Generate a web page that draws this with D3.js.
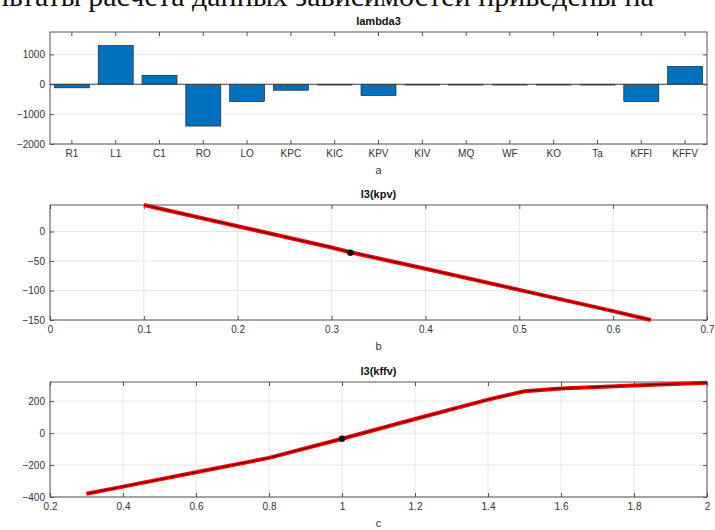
<!DOCTYPE html>
<html><head><meta charset="utf-8">
<script src="https://cdn.jsdelivr.net/npm/d3@7"></script>
<style>
body{margin:0;background:#fff;}
svg{display:block;font-family:"Liberation Sans",Arial,sans-serif;}
.tick text{fill:#333;font-size:10px;}
</style></head><body>
<svg id="c" width="715" height="530"></svg>
<script>
// ---- data ----
const headerText = "льтаты расчета данных зависимостей приведены на";
const categories = ["R1","L1","C1","RO","LO","KPC","KIC","KPV","KIV","MQ","WF","KO","Ta","KFFI","KFFV"];
const lambda3 = [-120,1300,300,-1400,-580,-200,0,-380,0,-20,0,0,0,-580,600];
const barTicks = [-2000,-1000,0,1000];

const kpvX = [0.1,0.2,0.3,0.32,0.4,0.5,0.6,0.64];
const kpvY = [45,9,-27,-35,-63,-99,-135,-150];
const kpvPoint = [0.32,-36];
const kpvXTicks = [0,0.1,0.2,0.3,0.4,0.5,0.6,0.7];
const kpvYTicks = [-150,-100,-50,0];

const kffX = [0.3,0.4,0.6,0.8,1.0,1.2,1.4,1.5,1.6,1.8,2.0];
const kffY = [-380,-335,-245,-155,-35,88,210,262,280,298,315];
const kffPoint = [1.0,-35];
const kffXTicks = [0.2,0.4,0.6,0.8,1,1.2,1.4,1.6,1.8,2];
const kffYTicks = [-400,-200,0,200];

const titles = ["lambda3","l3(kpv)","l3(kffv)"];
const xlabels = ["a","b","c"];

// ---- drawing ----
const svg = d3.select("#c");
svg.append("text").attr("x",-6).attr("y",6)
  .style("font-family","'Liberation Serif','Times New Roman',serif")
  .style("font-size","30px").attr("fill","#111").text(headerText);

const L = 50, R = 707;
const axisColor = "#555";

function frame(g, x, y, top, bottom, xTicks, yTicks, xFmt, yFmt, title, xlabel, bandX){
  if(!bandX){
    g.selectAll(".gx").data(xTicks).join("line")
      .attr("x1",d=>x(d)).attr("x2",d=>x(d)).attr("y1",top).attr("y2",bottom)
      .attr("stroke","#e6e6e6");
  }
  g.selectAll(".gy").data(yTicks).join("line")
    .attr("x1",L).attr("x2",R).attr("y1",d=>y(d)).attr("y2",d=>y(d))
    .attr("stroke","#e6e6e6");
  const xb = g.append("g").attr("transform",`translate(0,${bottom})`)
    .call((bandX?d3.axisBottom(x):d3.axisBottom(x).tickValues(xTicks).tickFormat(xFmt)).tickSizeInner(-4).tickSizeOuter(0).tickPadding(6));
  const xt = g.append("g").attr("transform",`translate(0,${top})`)
    .call((bandX?d3.axisTop(x):d3.axisTop(x).tickValues(xTicks)).tickSizeInner(-4).tickSizeOuter(0).tickFormat(""));
  const yl = g.append("g").attr("transform",`translate(${L},0)`)
    .call(d3.axisLeft(y).tickValues(yTicks).tickFormat(yFmt).tickSizeInner(-4).tickSizeOuter(0).tickPadding(5));
  const yr = g.append("g").attr("transform",`translate(${R},0)`)
    .call(d3.axisRight(y).tickValues(yTicks).tickFormat("").tickSizeInner(-4).tickSizeOuter(0));
  [xb,xt,yl,yr].forEach(a=>{a.selectAll("path").remove();a.selectAll("line").attr("stroke",axisColor);});
  g.append("rect").attr("x",L).attr("y",top).attr("width",R-L).attr("height",bottom-top)
    .attr("fill","none").attr("stroke",axisColor).attr("stroke-width",1);
  g.append("text").attr("x",(L+R)/2).attr("y",top-7).attr("text-anchor","middle")
    .style("font-size","11px").style("font-weight","bold").attr("fill","#111").text(title);
  g.append("text").attr("x",(L+R)/2).attr("y",bottom+30).attr("text-anchor","middle")
    .style("font-size","11px").attr("fill","#333").text(xlabel);
}

// plot 1: bars
{
  const top=32,bottom=144;
  const g = svg.append("g");
  const x = d3.scaleBand().domain(categories).range([L,R]).paddingInner(0.2).paddingOuter(0.1);
  const y = d3.scaleLinear().domain([-2000,1750]).range([bottom,top]);
  frame(g,x,y,top,bottom,null,barTicks,null,d3.format("d"),titles[0],xlabels[0],true);
  g.selectAll(".bar").data(lambda3).join("rect")
    .attr("x",(d,i)=>x(categories[i])).attr("width",x.bandwidth())
    .attr("y",d=>y(Math.max(0,d))).attr("height",d=>Math.max(0.8,Math.abs(y(d)-y(0))))
    .attr("fill","#0072BD").attr("stroke","#1a1a1a").attr("stroke-width",0.6);
  g.append("line").attr("x1",L).attr("x2",R).attr("y1",y(0)).attr("y2",y(0))
    .attr("stroke","#444").attr("stroke-width",1);
}

// plot 2: kpv
{
  const top=205,bottom=320;
  const g = svg.append("g");
  const x = d3.scaleLinear().domain([0,0.7]).range([L,R]);
  const y = d3.scaleLinear().domain([-150,45]).range([bottom,top]);
  frame(g,x,y,top,bottom,kpvXTicks,kpvYTicks,d=>d===0?"0":d3.format(".1f")(d),d3.format("d"),titles[1],xlabels[1],false);
  const pts = kpvX.map((v,i)=>[v,kpvY[i]]);
  const line = d3.line().x(d=>x(d[0])).y(d=>y(d[1]));
  g.append("path").attr("d",line(pts)).attr("fill","none").attr("stroke","#f00").attr("stroke-width",4);
  g.append("path").attr("d",line(pts)).attr("fill","none").attr("stroke","#400").attr("stroke-width",1);
  g.append("circle").attr("cx",x(kpvPoint[0])).attr("cy",y(kpvPoint[1])).attr("r",3.2).attr("fill","#111");
}

// plot 3: kffv
{
  const top=382,bottom=497;
  const g = svg.append("g");
  const x = d3.scaleLinear().domain([0.2,2]).range([L,R]);
  const y = d3.scaleLinear().domain([-400,320]).range([bottom,top]);
  frame(g,x,y,top,bottom,kffXTicks,kffYTicks,d=>(d===1||d===2)?String(d):d3.format(".1f")(d),d3.format("d"),titles[2],xlabels[2],false);
  const pts = kffX.map((v,i)=>[v,kffY[i]]);
  const line = d3.line().x(d=>x(d[0])).y(d=>y(d[1]));
  g.append("path").attr("d",line(pts)).attr("fill","none").attr("stroke","#f00").attr("stroke-width",4);
  g.append("path").attr("d",line(pts)).attr("fill","none").attr("stroke","#400").attr("stroke-width",1);
  g.append("circle").attr("cx",x(kffPoint[0])).attr("cy",y(kffPoint[1])).attr("r",3.2).attr("fill","#111");
}
</script></body></html>
